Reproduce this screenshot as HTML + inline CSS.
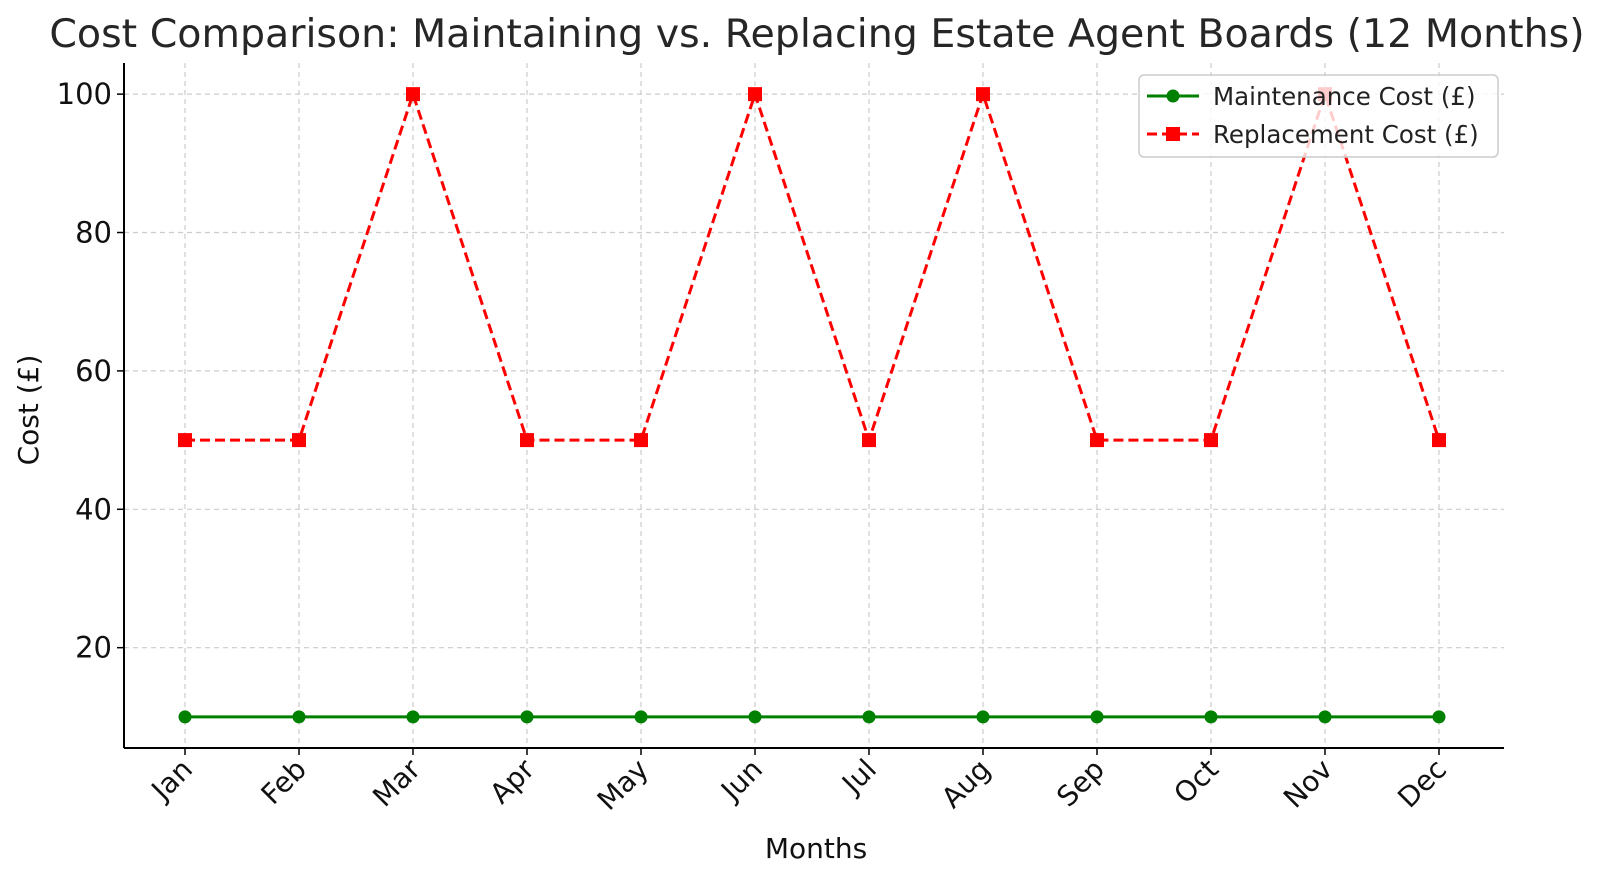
<!DOCTYPE html>
<html><head><meta charset="utf-8"><style>
body{margin:0;background:#fff;}
svg{font-family:"DejaVu Sans","Liberation Sans",sans-serif;}
</style></head><body>
<svg width="1600" height="878" xmlns="http://www.w3.org/2000/svg">
<text x="817" y="47" font-size="39.5" text-anchor="middle" fill="#262626">Cost Comparison: Maintaining vs. Replacing Estate Agent Boards (12 Months)</text>
<g id="grid"></g>
<g id="axes"></g>
<g id="series"></g>
<text x="816" y="858" font-size="28" text-anchor="middle" fill="#111">Months</text>
<text transform="translate(38,410) rotate(-90)" font-size="28" text-anchor="middle" fill="#111">Cost (£)</text>
<g>
<rect x="1139" y="75" width="359" height="82" rx="5" fill="#fff" fill-opacity="0.8" stroke="#ccc" stroke-width="1.5"/>
<g>
<line x1="1147" y1="96" x2="1199" y2="96" stroke="#008000" stroke-width="3"/>
<circle cx="1173" cy="96" r="6.5" fill="#008000"/>
<text x="1213" y="105" font-size="24.5" fill="#222">Maintenance Cost (£)</text>
</g>
<g>
<line x1="1147" y1="134" x2="1199" y2="134" stroke="#f00" stroke-width="3" stroke-dasharray="10,5"/>
<rect x="1166" y="127" width="14" height="14" fill="#f00"/>
<text x="1213" y="143" font-size="24.5" fill="#222">Replacement Cost (£)</text>
</g>
</g>
</svg>
<script>
const months=["Jan","Feb","Mar","Apr","May","Jun","Jul","Aug","Sep","Oct","Nov","Dec"];
const maintenance=[10,10,10,10,10,10,10,10,10,10,10,10];
const replacement=[50,50,100,50,50,100,50,100,50,50,100,50];
const yTicks=[20,40,60,80,100];
const L=124,R=1504,T=63,B=748,X0=185,X1=1439,YMIN=5.5,YMAX=104.5;
const xs=i=>X0+(X1-X0)*i/(months.length-1);
const ys=v=>B-(v-YMIN)/(YMAX-YMIN)*(B-T);
const NS="http://www.w3.org/2000/svg";
function mk(tag,attrs,parent){const e=document.createElementNS(NS,tag);for(const k in attrs)e.setAttribute(k,attrs[k]);parent.appendChild(e);return e;}
const grid=document.getElementById('grid'),axes=document.getElementById('axes'),series=document.getElementById('series');
months.forEach((m,i)=>{
 const x=xs(i);
 const g=mk('line',{x1:x,x2:x,y1:T,y2:B,stroke:'#ccc','stroke-dasharray':'5,4','stroke-width':1.2},grid);
 
 
 mk('line',{x1:x,x2:x,y1:B,y2:B+7,stroke:'#000','stroke-width':1.5},axes);
 const t=mk('text',{transform:`translate(${x+9},${B+23}) rotate(-45)`,'font-size':28,'text-anchor':'end',fill:'#111'},axes);
 t.textContent=m;
 
 
});
yTicks.forEach(v=>{
 const y=ys(v);
 const g=mk('line',{x1:L,x2:R,y1:y,y2:y,stroke:'#ccc','stroke-dasharray':'5,4','stroke-width':1.2},grid);
 
 
 mk('line',{x1:L-7,x2:L,y1:y,y2:y,stroke:'#000','stroke-width':1.5},axes);
 const t=mk('text',{x:L-12,y:y+10,'font-size':29,'text-anchor':'end',fill:'#111'},axes);
 t.textContent=v;
 
 
});
mk('line',{x1:L,x2:L,y1:T,y2:B,stroke:'#000','stroke-width':2},axes);
mk('line',{x1:L,x2:R,y1:B,y2:B,stroke:'#000','stroke-width':2},axes);
const mp=mk('polyline',{points:maintenance.map((v,i)=>xs(i)+','+ys(v)).join(' '),fill:'none',stroke:'#008000','stroke-width':3},series);


maintenance.forEach((v,i)=>{
 const c=mk('circle',{cx:xs(i),cy:ys(v),r:6.5,fill:'#008000'},series);
 
 
});
const rp=mk('polyline',{points:replacement.map((v,i)=>xs(i)+','+ys(v)).join(' '),fill:'none',stroke:'#f00','stroke-width':3,'stroke-dasharray':'10,5'},series);


replacement.forEach((v,i)=>{
 const r=mk('rect',{x:xs(i)-7,y:ys(v)-7,width:14,height:14,fill:'#f00'},series);
 
 
});
</script>
</body></html>
